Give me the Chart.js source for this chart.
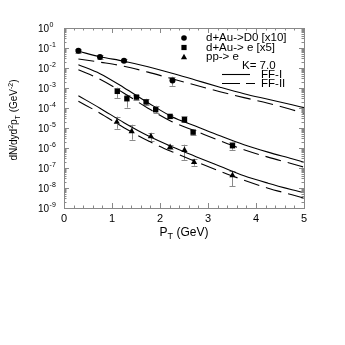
<!DOCTYPE html>
<html><head><meta charset="utf-8">
<script src="https://cdn.jsdelivr.net/npm/chart.js@4/dist/chart.umd.min.js"></script>
<style>html,body{margin:0;padding:0;background:#fff}canvas{display:block}</style>
</head><body>
<canvas id="c" width="345" height="345"></canvas>
<script>
// ---- tick labels ----
const xTickValues = [0, 1, 2, 3, 4, 5];
const xTickLabels = ['0', '1', '2', '3', '4', '5'];
const yTickValues = [1e-9, 1e-8, 1e-7, 1e-6, 1e-5, 1e-4, 1e-3, 1e-2, 1e-1, 1];
const yTickExponents = ['-9', '-8', '-7', '-6', '-5', '-4', '-3', '-2', '-1', '0'];

// ---- data points (value, upper, lower) ----
const d0PT = [0.30, 0.75, 1.25, 2.26];
const d0Y  = [0.073, 0.035, 0.023, 0.0024];
const d0Hi = [0.092, 0.0447, 0.0275, 0.00367];
const d0Lo = [0.058, 0.0282, 0.0195, 0.0013];

const eAuPT = [1.11, 1.31, 1.51, 1.71, 1.91, 2.21, 2.51, 2.69, 3.51];
const eAuY  = [6.8e-4, 2.9e-4, 3.5e-4, 2.0e-4, 8.2e-5, 3.8e-5, 2.6e-5, 6.2e-6, 1.3e-6];
const eAuHi = [1.04e-3, 4.6e-4, 4.6e-4, 2.9e-4, 1.3e-4, 4.6e-5, 3.9e-5, 8.2e-6, 2.07e-6];
const eAuLo = [3.2e-4, 1.04e-4, 2.6e-4, 1.46e-4, 5.8e-5, 3.3e-5, 2.07e-5, 4.6e-6, 8.2e-7];

const ppPT = [1.10, 1.41, 1.81, 2.21, 2.51, 2.71, 3.51];
const ppY  = [2.0e-5, 6.8e-6, 3.8e-6, 1.1e-6, 7.8e-7, 1.95e-7, 4.3e-8];
const ppHi = [3.7e-5, 1.46e-5, 5.8e-6, 1.38e-6, 1.46e-6, 2.75e-7, 7.3e-8];
const ppLo = [9.2e-6, 2.6e-6, 2.3e-6, 9.2e-7, 2.6e-7, 1.3e-7, 1.23e-8];

// ---- model curves (FF-I solid, FF-II dashed) ----
const curvePT = [0.3, 0.75, 1.25, 1.75, 2.25, 2.75, 3.25, 3.75, 4.25, 4.75, 5.0];
const d0FF1 = [0.069, 0.0367, 0.0219, 0.0116, 0.0055, 0.00245, 0.0011, 5.2e-4, 2.75e-4, 1.46e-4, 1.04e-4];
const d0FF2 = [0.0282, 0.0195, 0.0123, 0.0062, 0.0029, 0.00138, 6.5e-4, 3.3e-4, 1.74e-4, 8.2e-5, 5.5e-5];
const eFF1  = [0.0146, 0.0052, 0.00104, 1.84e-4, 3.67e-5, 1.23e-5, 4.1e-6, 1.46e-6, 6.2e-7, 2.9e-7, 1.95e-7];
const eFF2  = [0.0082, 0.00275, 5.5e-4, 9.8e-5, 2.07e-5, 6.9e-6, 2.3e-6, 8.2e-7, 3.5e-7, 1.64e-7, 1.1e-7];
const ppFF1 = [4.1e-4, 9.8e-5, 1.84e-5, 4.1e-6, 1.16e-6, 3.7e-7, 1.23e-7, 4.1e-8, 1.74e-8, 8.2e-9, 5.8e-9];
const ppFF2 = [2.19e-4, 5.5e-5, 1.04e-5, 2.3e-6, 6.5e-7, 2.07e-7, 6.9e-8, 2.45e-8, 9.8e-9, 4.6e-9, 3.1e-9];

const legendLabels = ['d+Au->D0 [x10]', 'd+Au-> e [x5]', 'pp-> e'];
const kLabel = 'K= 7.0';
const curveLabels = ['FF-I', 'FF-II'];

const FONT = '"Liberation Sans", Arial, Helvetica, sans-serif';
const pts = (xs, ys) => xs.map((x, i) => ({x: x, y: ys[i]}));

function curveDS(ys, dashed) {
  return {type: 'line', data: pts(curvePT, ys), borderColor: '#000', borderWidth: 1.1,
    borderDash: dashed ? [16, 7] : [], pointRadius: 0, fill: false,
    cubicInterpolationMode: 'monotone', showLine: true, order: 2};
}
function pointDS(xs, ys, style, r) {
  return {type: 'scatter', data: pts(xs, ys), pointStyle: style, pointRadius: r,
    backgroundColor: '#000', borderColor: '#000', borderWidth: 0, showLine: false, order: 1};
}

const errorSets = [[d0PT, d0Hi, d0Lo], [eAuPT, eAuHi, eAuLo], [ppPT, ppHi, ppLo]];

const decorPlugin = {
  id: 'decor',
  beforeDatasetsDraw(chart) {
    const ctx = chart.ctx, xs = chart.scales.x, ys = chart.scales.y;
    ctx.save();
    ctx.strokeStyle = '#8a8a8a';
    ctx.lineWidth = 1;
    errorSets.forEach(([px, hi, lo]) => {
      px.forEach((p, i) => {
        const x = Math.round(xs.getPixelForValue(p)) + 0.5;
        const y1 = ys.getPixelForValue(hi[i]), y2 = ys.getPixelForValue(lo[i]);
        ctx.beginPath();
        ctx.moveTo(x, y1); ctx.lineTo(x, y2);
        ctx.moveTo(x - 3, Math.round(y1) + 0.5); ctx.lineTo(x + 3, Math.round(y1) + 0.5);
        ctx.moveTo(x - 3, Math.round(y2) + 0.5); ctx.lineTo(x + 3, Math.round(y2) + 0.5);
        ctx.stroke();
      });
    });
    ctx.restore();
  },
  afterDraw(chart) {
    const ctx = chart.ctx, xs = chart.scales.x, ys = chart.scales.y, a = chart.chartArea;
    ctx.save();
    // frame
    ctx.strokeStyle = '#888';
    ctx.lineWidth = 1;
    ctx.strokeRect(Math.round(a.left) + 0.5, Math.round(a.top) + 0.5,
      Math.round(a.right - a.left), Math.round(a.bottom - a.top));
    // x ticks (bottom and top)
    ctx.beginPath();
    for (let v = 0; v <= 5.0001; v += 0.2) {
      const major = Math.abs(v - Math.round(v)) < 1e-6;
      const L = major ? 5 : 2.5;
      const x = Math.round(xs.getPixelForValue(v)) + 0.5;
      ctx.moveTo(x, a.bottom); ctx.lineTo(x, a.bottom - L);
      ctx.moveTo(x, a.top); ctx.lineTo(x, a.top + L);
    }
    // y ticks (left and right)
    for (let e = -9; e <= 0; e++) {
      for (let m = 1; m <= 9; m++) {
        const v = m * Math.pow(10, e);
        if (v > 1.0000001) break;
        const L = m === 1 ? 5 : 2.5;
        const y = Math.round(ys.getPixelForValue(v)) + 0.5;
        ctx.moveTo(a.left, y); ctx.lineTo(a.left + L, y);
        ctx.moveTo(a.right, y); ctx.lineTo(a.right - L, y);
      }
    }
    ctx.stroke();

    ctx.fillStyle = '#000';
    // y tick labels: 10 with superscript exponent
    ctx.textBaseline = 'middle';
    ctx.textAlign = 'left';
    yTickValues.forEach((v, i) => {
      const y = ys.getPixelForValue(v);
      ctx.font = '10px ' + FONT;
      ctx.fillText('10', 38, y + 1);
      const w = ctx.measureText('10').width;
      ctx.font = '7px ' + FONT;
      ctx.fillText(yTickExponents[i], 38 + w + 0.5, y - 3);
    });

    // x title: P_T (GeV)
    ctx.textBaseline = 'alphabetic';
    ctx.font = '12px ' + FONT;
    const cx = (a.left + a.right) / 2;
    const wP = ctx.measureText('P').width;
    ctx.font = '9px ' + FONT;
    const wT = ctx.measureText('T').width;
    ctx.font = '12px ' + FONT;
    const wG = ctx.measureText(' (GeV)').width;
    let x0 = cx - (wP + wT + wG) / 2;
    const by = 236;
    ctx.fillText('P', x0, by);
    ctx.font = '9px ' + FONT;
    ctx.fillText('T', x0 + wP, by + 2.5);
    ctx.font = '12px ' + FONT;
    ctx.fillText(' (GeV)', x0 + wP + wT, by);

    // y title rotated
    ctx.save();
    ctx.translate(17, 120);
    ctx.rotate(-Math.PI / 2);
    const parts = [
      ['dN/dyd', 10, 0], ['2', 7, -4], ['p', 10, 0], ['T', 7, 2.5],
      [' (GeV', 10, 0], ['-2', 7, -4], [')', 10, 0]
    ];
    let total = 0;
    parts.forEach(p => { ctx.font = p[1] + 'px ' + FONT; total += ctx.measureText(p[0]).width; });
    let px = -total / 2;
    parts.forEach(p => {
      ctx.font = p[1] + 'px ' + FONT;
      ctx.fillText(p[0], px, p[2]);
      px += ctx.measureText(p[0]).width;
    });
    ctx.restore();

    // legend
    const mx = 184;
    const rows = [38, 47.5, 57];
    ctx.beginPath(); ctx.arc(mx, rows[0], 2.8, 0, Math.PI * 2); ctx.fill();
    ctx.fillRect(mx - 2.6, rows[1] - 2.6, 5.2, 5.2);
    ctx.beginPath(); ctx.moveTo(mx, rows[2] - 3.3); ctx.lineTo(mx + 3.1, rows[2] + 2.2);
    ctx.lineTo(mx - 3.1, rows[2] + 2.2); ctx.closePath(); ctx.fill();
    ctx.font = '11.5px ' + FONT;
    ctx.textBaseline = 'middle';
    legendLabels.forEach((t, i) => ctx.fillText(t, 206, rows[i]));
    ctx.fillText(kLabel, 242, 65.5);
    ctx.fillText(curveLabels[0], 261, 74.5);
    ctx.fillText(curveLabels[1], 261, 83.5);
    ctx.strokeStyle = '#000';
    ctx.lineWidth = 1.1;
    ctx.beginPath(); ctx.moveTo(222, 74.5); ctx.lineTo(250, 74.5); ctx.stroke();
    ctx.setLineDash([18, 6]);
    ctx.beginPath(); ctx.moveTo(222, 83.5); ctx.lineTo(255, 83.5); ctx.stroke();
    ctx.restore();
  }
};

new Chart(document.getElementById('c'), {
  type: 'scatter',
  data: {
    datasets: [
      curveDS(d0FF1, false), curveDS(d0FF2, true),
      curveDS(eFF1, false), curveDS(eFF2, true),
      curveDS(ppFF1, false), curveDS(ppFF2, true),
      pointDS(d0PT, d0Y, 'circle', 3),
      pointDS(eAuPT, eAuY, 'rect', 3.8),
      pointDS(ppPT, ppY, 'triangle', 3.6)
    ]
  },
  options: {
    responsive: false, animation: false, devicePixelRatio: 1,
    layout: {padding: {left: 38, right: 41, top: 28, bottom: 117}},
    plugins: {legend: {display: false}, tooltip: {enabled: false}},
    scales: {
      x: {
        type: 'linear', min: 0, max: 5,
        afterBuildTicks: s => { s.ticks = xTickValues.map(v => ({value: v})); },
        afterFit: s => { s.height = 20; },
        ticks: {callback: v => xTickLabels[xTickValues.indexOf(v)], padding: 4, color: '#000',
          font: {family: FONT, size: 11}, maxRotation: 0, autoSkip: false},
        grid: {display: false, drawTicks: false}, border: {display: false}
      },
      y: {
        type: 'logarithmic', min: 1e-9, max: 1,
        afterBuildTicks: s => { s.ticks = yTickValues.map(v => ({value: v})); },
        afterFit: s => { s.width = 26; },
        ticks: {display: false},
        grid: {display: false, drawTicks: false}, border: {display: false}
      }
    }
  },
  plugins: [decorPlugin]
});
</script>
</body></html>
